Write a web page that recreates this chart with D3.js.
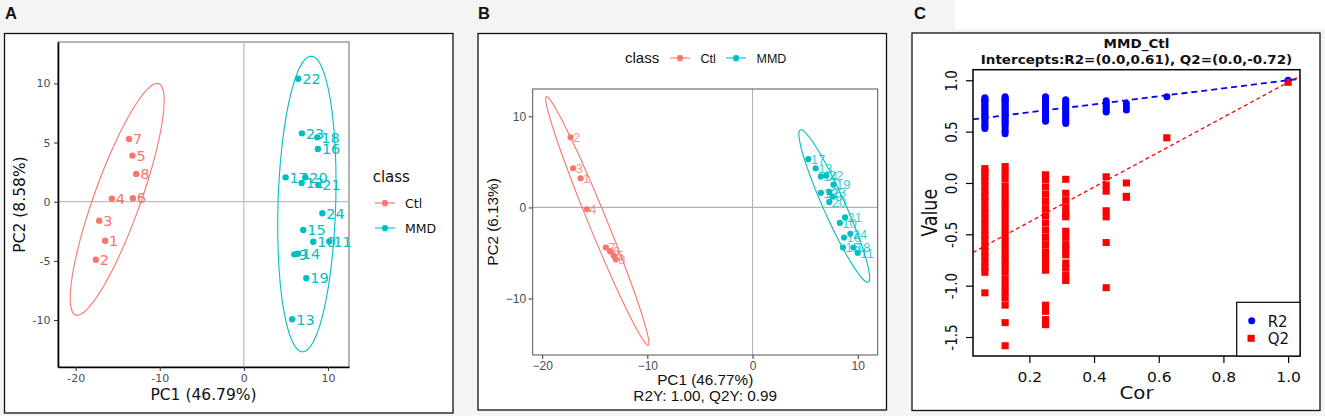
<!DOCTYPE html>
<html>
<head>
<meta charset="utf-8">
<script src="https://cdn.jsdelivr.net/npm/d3@7"></script>
<style>
  body { margin: 0; background: #f4f4f4; }
  svg { display: block; }
</style>
</head>
<body>
<div id="figure"></div>
<script>
// ---------------- data ----------------
var groupNames = ["Ctl", "MMD"];
var groupColors = ["#F8766D", "#00BFC4"];

// A: PCA score plot
var pcaXTicks = [-20, -10, 0, 10];
var pcaYTicks = [-10, -5, 0, 5, 10];
var pcaXLimits = [-22.1, 12.5];
var pcaYLimits = [-13.97, 13.5];
var pcaCtlLabels = ["1", "2", "3", "4", "5", "6", "7", "8"];
var pcaCtlPC1 = [-16.5, -17.6, -17.2, -15.7, -13.25, -13.2, -13.65, -12.8];
var pcaCtlPC2 = [-3.3, -4.9, -1.6, 0.25, 3.9, 0.3, 5.3, 2.35];
var pcaMmdLabels = ["9", "10", "11", "12", "13", "14", "15", "16", "17", "18", "19", "20", "21", "22", "23", "24"];
var pcaMmdPC1 = [6.0, 8.25, 10.16, 6.87, 5.75, 6.4, 7.06, 8.8, 4.96, 8.73, 7.42, 7.3, 8.85, 6.47, 6.9, 9.33];
var pcaMmdPC2 = [-4.45, -3.38, -3.35, 1.58, -9.94, -4.4, -2.39, 4.45, 2.06, 5.44, -6.47, 2.06, 1.41, 10.4, 5.78, -0.98];

// B: OPLS-DA score plot
var oplsXTicks = [-20, -10, 0, 10];
var oplsYTicks = [-10, 0, 10];
var oplsXLimits = [-20.9, 11.9];
var oplsYLimits = [-16.2, 13.0];
var oplsCtlLabels = ["1", "2", "3", "4", "5", "6", "7", "8"];
var oplsCtlPC1 = [-16.35, -17.3, -17.05, -15.75, -13.2, -13.55, -13.95, -13.0];
var oplsCtlPC2 = [3.2, 7.7, 4.3, -0.2, -5.3, -4.8, -4.4, -5.7];
var oplsMmdLabels = ["9", "10", "11", "12", "13", "14", "15", "16", "17", "18", "19", "20", "21", "22", "23", "24"];
var oplsMmdPC1 = [7.6, 8.3, 10.0, 6.5, 6.0, 6.5, 8.6, 8.7, 5.3, 9.6, 7.7, 7.3, 8.8, 7.0, 7.3, 9.3];
var oplsMmdPC2 = [1.2, -1.7, -5.0, 1.6, 4.3, 3.4, -4.4, -3.3, 5.3, -4.4, 2.5, 0.6, -1.1, 3.5, 1.7, -2.9];

// C: permutation test
var permXTicks = [0.2, 0.4, 0.6, 0.8, 1.0];
var permYTicks = [-1.5, -1.0, -0.5, 0.0, 0.5, 1.0];
var permXLimits = [0.0257, 1.0368];
var permYLimits = [-1.685, 1.103];
var permCor = [0.0625, 0.125, 0.25, 0.3125, 0.4375, 0.5, 0.625, 1.0];
var permR2 = [
  [0.83, 0.82, 0.81, 0.80, 0.79, 0.78, 0.76, 0.75, 0.74, 0.72, 0.71, 0.70, 0.68, 0.67, 0.65, 0.64, 0.62, 0.60, 0.58, 0.56, 0.55, 0.53],
  [0.84, 0.83, 0.82, 0.81, 0.80, 0.79, 0.78, 0.76, 0.75, 0.74, 0.72, 0.71, 0.70, 0.68, 0.67, 0.65, 0.64, 0.62, 0.60, 0.59, 0.57, 0.55, 0.52, 0.50, 0.48],
  [0.84, 0.83, 0.82, 0.81, 0.80, 0.78, 0.77, 0.76, 0.75, 0.73, 0.72, 0.71, 0.70, 0.68, 0.67, 0.65, 0.64, 0.62, 0.60],
  [0.81, 0.80, 0.78, 0.77, 0.75, 0.74, 0.72, 0.70, 0.68, 0.67, 0.65, 0.63, 0.61, 0.60, 0.58],
  [0.80, 0.78, 0.76, 0.74, 0.72, 0.70, 0.69],
  [0.775, 0.74, 0.71],
  [0.84],
  [1.0]
];
var permQ2 = [
  [0.14, 0.10, 0.06, 0.02, -0.03, -0.08, -0.13, -0.18, -0.24, -0.29, -0.35, -0.40, -0.46, -0.51, -0.56, -0.62, -0.67, -0.72, -0.77, -0.82, -0.87, -1.07],
  [0.16, 0.10, 0.04, -0.03, -0.09, -0.15, -0.21, -0.27, -0.33, -0.39, -0.45, -0.51, -0.57, -0.63, -0.69, -0.75, -0.81, -0.87, -0.94, -1.00, -1.06, -1.12, -1.19, -1.36, -1.585],
  [0.08, 0.03, -0.04, -0.11, -0.18, -0.25, -0.32, -0.39, -0.46, -0.53, -0.60, -0.67, -0.73, -0.79, -0.85, -1.19, -1.25, -1.33, -1.38],
  [0.036, -0.10, -0.17, -0.24, -0.30, -0.33, -0.47, -0.53, -0.60, -0.65, -0.70, -0.78, -0.83, -0.90, -0.95],
  [0.06, -0.02, -0.08, -0.27, -0.33, -0.58, -1.02],
  [0.0, -0.13, -0.14],
  [0.44],
  [0.98]
];
var interceptR2 = 0.61;
var interceptQ2 = -0.72;
var permLegend = ["R2", "Q2"];

// ---------------- helpers ----------------
// ggplot2 stat_ellipse (type "t"): MASS::cov.trob + F-quantile radius
function trobEllipse(xs, ys) {
  var n = xs.length, nu = 5, p = 2;
  var loc = [d3.mean(xs), d3.mean(ys)];
  var w = xs.map(() => 1);
  var X;
  for (var iter = 0; iter < 25; iter++) {
    var w0 = w.slice();
    X = xs.map((x, i) => [x - loc[0], ys[i] - loc[1]]);
    var sw = d3.sum(w);
    var a = d3.sum(X, (d, i) => w[i] * d[0] * d[0]) / sw,
        b = d3.sum(X, (d, i) => w[i] * d[0] * d[1]) / sw,
        c = d3.sum(X, (d, i) => w[i] * d[1] * d[1]) / sw;
    var det = a * c - b * b;
    w = X.map(d => (nu + p) / (nu + (c * d[0] * d[0] - 2 * b * d[0] * d[1] + a * d[1] * d[1]) / det));
    var sw2 = d3.sum(w);
    loc = [d3.sum(xs, (x, i) => w[i] * x) / sw2, d3.sum(ys, (y, i) => w[i] * y) / sw2];
    if (d3.max(w, (v, i) => Math.abs(v - w0[i])) < 0.01) break;
  }
  var sa = d3.sum(X, (d, i) => w[i] * d[0] * d[0]) / n,
      sb = d3.sum(X, (d, i) => w[i] * d[0] * d[1]) / n,
      sc = d3.sum(X, (d, i) => w[i] * d[1] * d[1]) / n;
  var dfd = n - 1;
  var radius = Math.sqrt(2 * (dfd / 2) * (Math.pow(0.05, -2 / dfd) - 1));
  var r11 = Math.sqrt(sa), r12 = sb / r11, r22 = Math.sqrt(sc - r12 * r12);
  return d3.range(52).map(k => {
    var t = 2 * Math.PI * k / 51;
    return [loc[0] + radius * Math.cos(t) * r11,
            loc[1] + radius * (Math.cos(t) * r12 + Math.sin(t) * r22)];
  });
}

function zip(xs, ys, labels) {
  return xs.map((x, i) => ({ x: x, y: ys[i], label: labels[i] }));
}

var svg = d3.select("#figure").append("svg")
            .attr("width", 1325)
            .attr("height", 416);

// background pieces
svg.append("rect").attr("x", 0).attr("y", 0).attr("width", 1325).attr("height", 416).attr("fill", "#f4f4f4");
svg.append("rect").attr("x", 955).attr("y", 0).attr("width", 370).attr("height", 29).attr("fill", "#ffffff");

var boxes = [[4.5, 33.5, 448.5, 379.5], [478, 33.5, 408.5, 376.5], [912, 33, 408, 377.5]];
boxes.forEach(b => {
  svg.append("rect").attr("x", b[0]).attr("y", b[1]).attr("width", b[2]).attr("height", b[3])
     .attr("fill", "#ffffff").attr("stroke", "#111").attr("stroke-width", 1.3);
});

var panelLetters = [["A", 5], ["B", 478], ["C", 914]];
panelLetters.forEach(p => {
  svg.append("text").attr("x", p[1]).attr("y", 19)
     .attr("font-family", "Liberation Sans, Arial, sans-serif").attr("font-weight", "bold")
     .attr("font-size", 16.5).attr("fill", "#111").text(p[0]);
});

// ---------------- panel A ----------------
var fontA = "DejaVu Sans, sans-serif";
var leftA = 58, rightA = 349, topA = 42, bottomA = 367;
var xA = d3.scaleLinear().domain(pcaXLimits).range([leftA, rightA]);
var yA = d3.scaleLinear().domain(pcaYLimits).range([bottomA, topA]);
var gA = svg.append("g");

gA.append("rect").attr("x", leftA).attr("y", topA).attr("width", rightA - leftA).attr("height", bottomA - topA)
  .attr("fill", "none").attr("stroke", "#444").attr("stroke-width", 0.8);
gA.append("line").attr("x1", xA(0)).attr("x2", xA(0)).attr("y1", topA).attr("y2", bottomA)
  .attr("stroke", "#bdbdbd").attr("stroke-width", 1.2);
gA.append("line").attr("x1", leftA).attr("x2", rightA).attr("y1", yA(0)).attr("y2", yA(0))
  .attr("stroke", "#bdbdbd").attr("stroke-width", 1.2);

function styleAxis(g, font, size, domainColor, domainWidth) {
  g.attr("font-family", font).attr("font-size", size);
  g.selectAll("text").attr("fill", "#4d4d4d");
  g.selectAll(".tick line").attr("stroke", "#333").attr("stroke-width", 1);
  g.select(".domain").attr("stroke", domainColor).attr("stroke-width", domainWidth);
}

gA.append("g").attr("transform", `translate(0,${bottomA})`)
  .call(d3.axisBottom(xA).tickValues(pcaXTicks).tickFormat(d => String(d)).tickSize(4).tickSizeOuter(0).tickPadding(3.5))
  .call(g => styleAxis(g, fontA, 11, "#000", 1.6));
gA.append("g").attr("transform", `translate(${leftA},0)`)
  .call(d3.axisLeft(yA).tickValues(pcaYTicks).tickFormat(d => String(d)).tickSize(4).tickSizeOuter(0).tickPadding(3.5))
  .call(g => styleAxis(g, fontA, 11, "#000", 1.6));

gA.append("text").attr("x", (leftA + rightA) / 2).attr("y", 400)
  .attr("text-anchor", "middle").attr("font-family", fontA).attr("font-size", 15.5).attr("fill", "#111")
  .text("PC1 (46.79%)");
gA.append("text").attr("transform", `translate(25,${(topA + bottomA) / 2}) rotate(-90)`)
  .attr("text-anchor", "middle").attr("font-family", fontA).attr("font-size", 15.5).attr("fill", "#111")
  .text("PC2 (8.58%)");

var lineGen = (xs, ys) => d3.line().x(d => xs(d[0])).y(d => ys(d[1]));

var pcaGroups = [zip(pcaCtlPC1, pcaCtlPC2, pcaCtlLabels), zip(pcaMmdPC1, pcaMmdPC2, pcaMmdLabels)];
pcaGroups.forEach((pts, k) => {
  var ell = trobEllipse(pts.map(d => d.x), pts.map(d => d.y));
  gA.append("path").attr("d", lineGen(xA, yA)(ell) + "Z")
    .attr("fill", "none").attr("stroke", groupColors[k]).attr("stroke-width", 1.1);
});
pcaGroups.forEach((pts, k) => {
  gA.selectAll(null).data(pts).enter().append("circle")
    .attr("cx", d => xA(d.x)).attr("cy", d => yA(d.y)).attr("r", 3.2)
    .attr("fill", groupColors[k]);
  gA.selectAll(null).data(pts).enter().append("text")
    .attr("x", d => xA(d.x) + 4).attr("y", d => yA(d.y)).attr("dy", "0.36em")
    .attr("font-family", fontA).attr("font-size", 14.5).attr("fill", groupColors[k])
    .text(d => d.label);
});

// legend A
gA.append("text").attr("x", 372.7).attr("y", 182).attr("font-family", fontA).attr("font-size", 15).attr("fill", "#111").text("class");
groupNames.forEach((name, k) => {
  var cy = 203 + k * 25;
  gA.append("text").attr("x", 385).attr("y", cy + 4).attr("text-anchor", "middle")
    .attr("font-family", fontA).attr("font-size", 12).attr("fill", groupColors[k]).attr("opacity", 0.45).text("a");
  gA.append("line").attr("x1", 375).attr("x2", 395).attr("y1", cy).attr("y2", cy)
    .attr("stroke", groupColors[k]).attr("stroke-width", 1.1);
  gA.append("circle").attr("cx", 385).attr("cy", cy).attr("r", 3).attr("fill", groupColors[k]);
  gA.append("text").attr("x", 405).attr("y", cy + 4.5).attr("font-family", fontA).attr("font-size", 12.5)
    .attr("fill", "#111").text(name);
});

// ---------------- panel B ----------------
var fontB = "Liberation Sans, Arial, sans-serif";
var leftB = 532.7, rightB = 877.7, topB = 89, bottomB = 355;
var xB = d3.scaleLinear().domain(oplsXLimits).range([leftB, rightB]);
var yB = d3.scaleLinear().domain(oplsYLimits).range([bottomB, topB]);
var gB = svg.append("g");

gB.append("line").attr("x1", xB(0)).attr("x2", xB(0)).attr("y1", topB).attr("y2", bottomB)
  .attr("stroke", "#b3b3b3").attr("stroke-width", 1.1);
gB.append("line").attr("x1", leftB).attr("x2", rightB).attr("y1", yB(0)).attr("y2", yB(0))
  .attr("stroke", "#b3b3b3").attr("stroke-width", 1.1);

gB.append("g").attr("transform", `translate(0,${bottomB})`)
  .call(d3.axisBottom(xB).tickValues(oplsXTicks).tickFormat(d3.format("d")).tickSize(4).tickSizeOuter(0).tickPadding(2.5))
  .call(g => styleAxis(g, fontB, 12, "none", 0));
gB.append("g").attr("transform", `translate(${leftB},0)`)
  .call(d3.axisLeft(yB).tickValues(oplsYTicks).tickFormat(d3.format("d")).tickSize(4).tickSizeOuter(0).tickPadding(2.5))
  .call(g => styleAxis(g, fontB, 12, "none", 0));
gB.append("rect").attr("x", leftB).attr("y", topB).attr("width", rightB - leftB).attr("height", bottomB - topB)
  .attr("fill", "none").attr("stroke", "#555").attr("stroke-width", 1);

gB.append("text").attr("x", (leftB + rightB) / 2).attr("y", 385)
  .attr("text-anchor", "middle").attr("font-family", fontB).attr("font-size", 15.3).attr("fill", "#111")
  .text("PC1 (46.77%)");
gB.append("text").attr("x", (leftB + rightB) / 2).attr("y", 400.5)
  .attr("text-anchor", "middle").attr("font-family", fontB).attr("font-size", 15.3).attr("fill", "#111")
  .text("R2Y: 1.00, Q2Y: 0.99");
gB.append("text").attr("transform", `translate(498,${(topB + bottomB) / 2}) rotate(-90)`)
  .attr("text-anchor", "middle").attr("font-family", fontB).attr("font-size", 15.3).attr("fill", "#111")
  .text("PC2 (6.13%)");

var oplsGroups = [zip(oplsCtlPC1, oplsCtlPC2, oplsCtlLabels), zip(oplsMmdPC1, oplsMmdPC2, oplsMmdLabels)];
oplsGroups.forEach((pts, k) => {
  var ell = trobEllipse(pts.map(d => d.x), pts.map(d => d.y));
  gB.append("path").attr("d", lineGen(xB, yB)(ell) + "Z")
    .attr("fill", "none").attr("stroke", groupColors[k]).attr("stroke-width", 1.1);
});
oplsGroups.forEach((pts, k) => {
  gB.selectAll(null).data(pts).enter().append("circle")
    .attr("cx", d => xB(d.x)).attr("cy", d => yB(d.y)).attr("r", 3.1)
    .attr("fill", groupColors[k]);
  gB.selectAll(null).data(pts).enter().append("text")
    .attr("x", d => xB(d.x) + 2.5).attr("y", d => yB(d.y)).attr("dy", "0.36em")
    .attr("font-family", fontB).attr("font-size", 13).attr("fill", groupColors[k]).attr("fill-opacity", 0.8)
    .text(d => d.label);
});

// legend B (top)
gB.append("text").attr("x", 625).attr("y", 63).attr("font-family", fontB).attr("font-size", 15).attr("fill", "#111").text("class");
var legendBX = [670, 726];
groupNames.forEach((name, k) => {
  var x0 = legendBX[k], cy = 58;
  gB.append("text").attr("x", x0 + 10).attr("y", cy + 4).attr("text-anchor", "middle")
    .attr("font-family", fontB).attr("font-size", 12).attr("fill", groupColors[k]).attr("opacity", 0.45).text("a");
  gB.append("line").attr("x1", x0).attr("x2", x0 + 20).attr("y1", cy).attr("y2", cy)
    .attr("stroke", groupColors[k]).attr("stroke-width", 1.1);
  gB.append("circle").attr("cx", x0 + 10).attr("cy", cy).attr("r", 3).attr("fill", groupColors[k]);
  gB.append("text").attr("x", x0 + 30.5).attr("y", cy + 4.8).attr("font-family", fontB).attr("font-size", 12.5)
    .attr("fill", "#111").text(name);
});

// ---------------- panel C ----------------
var fontC = "DejaVu Sans, sans-serif";
var stretchC = 1.15;
var leftC = 973, rightC = 1300, topC = 69.7, bottomC = 356;
var xC = d3.scaleLinear().domain(permXLimits).range([leftC, rightC]);
var yC = d3.scaleLinear().domain(permYLimits).range([bottomC, topC]);
var gC = svg.append("g");

var ax = gC.append("g").attr("transform", `translate(0,${bottomC})`)
  .call(d3.axisBottom(xC).tickValues(permXTicks).tickFormat(d3.format(".1f")).tickSize(7).tickSizeOuter(0).tickPadding(9));
ax.attr("font-family", fontC).attr("font-size", 13.5);
ax.select(".domain").remove();
ax.selectAll(".tick line").attr("stroke", "#000").attr("stroke-width", 1.2);
ax.selectAll("text").attr("fill", "#111").attr("transform", `scale(${stretchC},1)`);

var ay = gC.append("g").attr("transform", `translate(${leftC},0)`)
  .call(d3.axisLeft(yC).tickValues(permYTicks).tickFormat(d => d.toFixed(1)).tickSize(7).tickSizeOuter(0));
ay.attr("font-family", fontC).attr("font-size", 13.5);
ay.select(".domain").remove();
ay.selectAll(".tick line").attr("stroke", "#000").attr("stroke-width", 1.2);
ay.selectAll("text").attr("x", null).attr("dy", null).attr("text-anchor", "middle").attr("fill", "#111")
  .attr("transform", `translate(-16,0) scale(${stretchC},1) rotate(-90)`);

gC.append("g").attr("transform", `translate(${(leftC + rightC) / 2},399.3) scale(1.1,1)`)
  .append("text").attr("text-anchor", "middle").attr("font-family", fontC).attr("font-size", 18).attr("fill", "#111").text("Cor");
gC.append("g").attr("transform", `translate(937,${(topC + bottomC) / 2}) scale(1.22,1) rotate(-90)`)
  .append("text").attr("text-anchor", "middle").attr("font-family", fontC).attr("font-size", 17.5).attr("fill", "#111").text("Value");

gC.append("g").attr("transform", `translate(${(leftC + rightC) / 2},48) scale(1.08,1)`)
  .append("text").attr("text-anchor", "middle").attr("font-family", fontC).attr("font-weight", "bold")
  .attr("font-size", 12.5).attr("fill", "#111").text("MMD_Ctl");
gC.append("g").attr("transform", `translate(${(leftC + rightC) / 2},64) scale(1.08,1)`)
  .append("text").attr("text-anchor", "middle").attr("font-family", fontC).attr("font-weight", "bold")
  .attr("font-size", 12.5).attr("fill", "#111")
  .text("Intercepts:R2=(0.0," + interceptR2.toFixed(2) + "), Q2=(0.0," + interceptQ2.toFixed(2) + ")");

var r2Points = [], q2Points = [];
permCor.forEach((c, i) => {
  permR2[i].forEach(v => r2Points.push({ x: c, y: v }));
  permQ2[i].forEach(v => q2Points.push({ x: c, y: v }));
});

gC.selectAll("circle.r2").data(r2Points).enter().append("circle").attr("class", "r2")
  .attr("cx", d => xC(d.x)).attr("cy", d => yC(d.y)).attr("r", 3.5).attr("fill", "#0000ff");
gC.selectAll("rect.q2").data(q2Points).enter().append("rect").attr("class", "q2")
  .attr("x", d => xC(d.x) - 3.6).attr("y", d => yC(d.y) - 3.5).attr("width", 7.2).attr("height", 7)
  .attr("fill", "#ff0000");

// regression lines through the intercept and the original model (cor = 1)
var r2Top = permR2[permR2.length - 1][0], q2Top = permQ2[permQ2.length - 1][0];
var fitLines = [
  { a: interceptR2, b: r2Top - interceptR2, color: "#0000ff", width: 1.8, dash: "6,4" },
  { a: interceptQ2, b: q2Top - interceptQ2, color: "#ff0000", width: 1.3, dash: "4,3" }
];
gC.append("clipPath").attr("id", "clipC").append("rect")
  .attr("x", leftC).attr("y", topC).attr("width", rightC - leftC).attr("height", bottomC - topC);
fitLines.forEach(l => {
  gC.append("line").attr("clip-path", "url(#clipC)")
    .attr("x1", xC(permXLimits[0])).attr("y1", yC(l.a + l.b * permXLimits[0]))
    .attr("x2", xC(permXLimits[1])).attr("y2", yC(l.a + l.b * permXLimits[1]))
    .attr("stroke", l.color).attr("stroke-width", l.width).attr("stroke-dasharray", l.dash);
});

gC.append("rect").attr("x", leftC).attr("y", topC).attr("width", rightC - leftC).attr("height", bottomC - topC)
  .attr("fill", "none").attr("stroke", "#000").attr("stroke-width", 1.5);

// legend C
gC.append("rect").attr("x", 1236.7).attr("y", 302.3).attr("width", rightC - 1236.7).attr("height", bottomC - 302.3)
  .attr("fill", "#fff").attr("stroke", "#000").attr("stroke-width", 1.2);
gC.append("circle").attr("cx", 1251.7).attr("cy", 320.7).attr("r", 3.5).attr("fill", "#0000ff");
gC.append("rect").attr("x", 1247.5).attr("y", 334.8).attr("width", 7.2).attr("height", 7).attr("fill", "#ff0000");
permLegend.forEach((name, k) => {
  gC.append("text").attr("x", 1267.7).attr("y", 326.5 + k * 17.7).attr("font-family", fontC)
    .attr("font-size", 15).attr("fill", "#111").text(name);
});
</script>
</body>
</html>
